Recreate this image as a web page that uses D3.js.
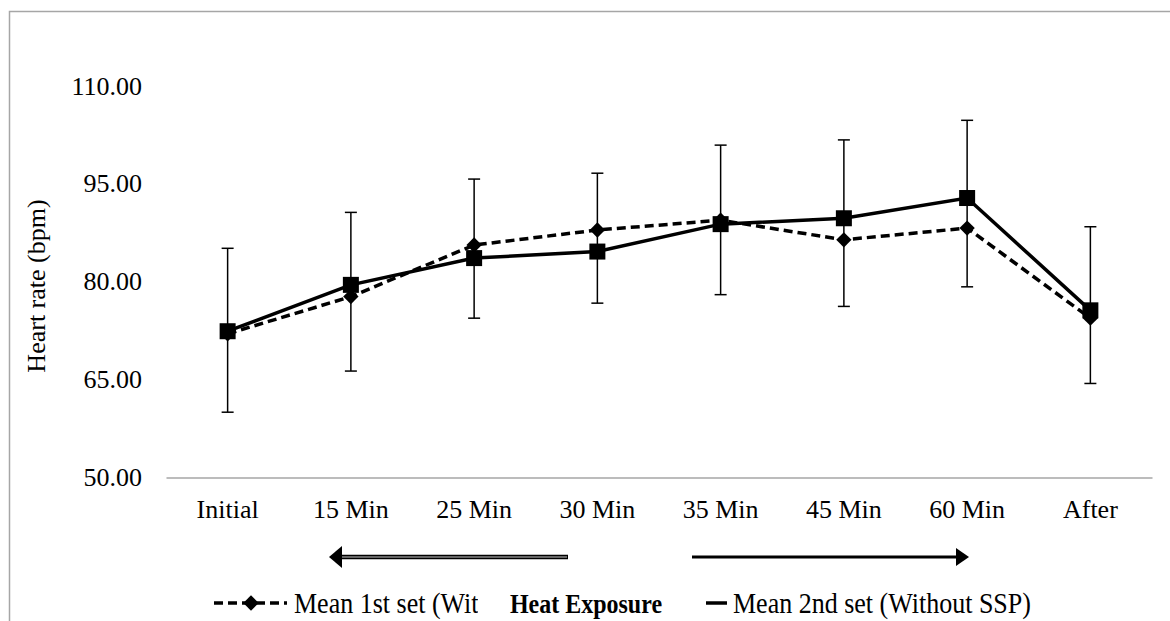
<!DOCTYPE html>
<html>
<head>
<meta charset="utf-8">
<script src="https://cdn.jsdelivr.net/npm/d3@7"></script>
<style>
  body { margin: 0; background: #fff; }
  text { font-family: "Liberation Serif", "Times New Roman", serif; fill: #000; }
</style>
</head>
<body>
<div id="container"></div>
<script>
/* DATA */
const categories = ["Initial", "15 Min", "25 Min", "30 Min", "35 Min", "45 Min", "60 Min", "After"];
const mean1st = [72.0, 77.7, 85.6, 87.9, 89.4, 86.4, 88.2, 74.4];   // dashed, diamonds
const mean2nd = [72.4, 79.5, 83.6, 84.6, 88.8, 89.7, 92.8, 75.6];   // solid, squares
const errTop = [85.1, 90.6, 95.7, 96.6, 100.9, 101.7, 104.7, 88.4];
const errBottom = [60.0, 66.3, 74.4, 76.7, 78.0, 76.2, 79.2, 64.4];
const yTicks = [50, 65, 80, 95, 110];
// first name is cut by the "Heat Exposure" box in the original
const seriesNames = ["Mean 1st set (Wit", "Mean 2nd set (Without SSP)"];

/* CONSTANTS */
const W = 1170, H = 621;
const plot = {left: 166, right: 1152, top: 85.7, bottom: 477.5};

const svg = d3.select("#container").append("svg")
    .attr("width", W)
    .attr("height", H);

// outer chart border (only top and left visible)
svg.append("rect")
    .attr("x", 9.5).attr("y", 11.5)
    .attr("width", 1300).attr("height", 800)
    .attr("fill", "none")
    .attr("stroke", "#a6a6a6")
    .attr("stroke-width", 1.5);

const x = d3.scaleBand()
    .domain(categories)
    .range([plot.left, plot.right]);

const y = d3.scaleLinear()
    .domain([50, 110])
    .range([plot.bottom, plot.top]);

const cx = d => x(d) + x.bandwidth() / 2;

// y axis (labels only)
svg.append("g")
    .attr("transform", "translate(" + plot.left + ",0)")
    .call(d3.axisLeft(y).tickValues(yTicks).tickFormat(d3.format(".2f")).tickSize(0).tickPadding(24))
    .call(g => g.select(".domain").remove())
    .selectAll("text")
      .style("font-size", "26px")
      .style("font-family", "'Liberation Serif', serif")
      .attr("fill", "#000");

// x axis
svg.append("g")
    .attr("transform", "translate(0," + plot.bottom + ")")
    .call(d3.axisBottom(x).tickSize(0).tickPadding(22))
    .call(g => g.select(".domain").attr("stroke", "#a6a6a6").attr("stroke-width", 1.5))
    .selectAll("text")
      .style("font-size", "26px")
      .style("font-family", "'Liberation Serif', serif")
      .attr("fill", "#000");

svg.append("text")
    .attr("transform", "translate(45,286)rotate(-90)")
    .attr("text-anchor", "middle")
    .style("font-size", "26px")
    .text("Heart rate (bpm)");

// error bars
const eb = svg.append("g").attr("stroke", "#000").attr("stroke-width", 1.5);
categories.forEach(function(c, i) {
  eb.append("line")
    .attr("x1", cx(c)).attr("x2", cx(c))
    .attr("y1", y(errTop[i])).attr("y2", y(errBottom[i]));
  [errTop[i], errBottom[i]].forEach(function(v) {
    eb.append("line")
      .attr("x1", cx(c) - 6).attr("x2", cx(c) + 6)
      .attr("y1", y(v)).attr("y2", y(v));
  });
});

const line = d3.line()
    .x((d, i) => cx(categories[i]))
    .y(d => y(d));

// series 1: dashed with diamonds
svg.append("path")
    .datum(mean1st)
    .attr("d", line)
    .attr("fill", "none")
    .attr("stroke", "#000")
    .attr("stroke-width", 3.5)
    .attr("stroke-dasharray", "9,5");

svg.selectAll("path.diamond")
    .data(mean1st)
    .join("path")
    .attr("class", "diamond")
    .attr("d", d3.symbol(d3.symbolDiamond2, 150))
    .attr("transform", (d, i) => "translate(" + cx(categories[i]) + "," + y(d) + ")")
    .attr("fill", "#000");

// series 2: solid with squares
svg.append("path")
    .datum(mean2nd)
    .attr("d", line)
    .attr("fill", "none")
    .attr("stroke", "#000")
    .attr("stroke-width", 3.5);

svg.selectAll("rect.square")
    .data(mean2nd)
    .join("rect")
    .attr("class", "square")
    .attr("x", (d, i) => cx(categories[i]) - 8)
    .attr("y", d => y(d) - 8)
    .attr("width", 16)
    .attr("height", 16)
    .attr("fill", "#000");

/* LEGEND */
const legY = 603;
const leg = svg.append("g");

// entry 1
leg.append("line")
    .attr("x1", 214).attr("x2", 287).attr("y1", legY).attr("y2", legY)
    .attr("stroke", "#000").attr("stroke-width", 3.5).attr("stroke-dasharray", "9,5");
leg.append("path")
    .attr("d", d3.symbol(d3.symbolDiamond2, 150))
    .attr("transform", "translate(251," + legY + ")");
leg.append("text")
    .attr("transform", "translate(294," + (legY + 10) + ")scale(1,1.1)")
    .style("font-size", "26px")
    .text(seriesNames[0]);

// entry 2
leg.append("line")
    .attr("x1", 654).attr("x2", 727).attr("y1", legY).attr("y2", legY)
    .attr("stroke", "#000").attr("stroke-width", 3.5);
leg.append("rect")
    .attr("x", 682).attr("y", legY - 8).attr("width", 16).attr("height", 16);
leg.append("text")
    .attr("transform", "translate(733," + (legY + 10) + ")scale(1,1.1)")
    .style("font-size", "26px")
    .text(seriesNames[1]);

/* HEAT EXPOSURE ANNOTATION */
svg.append("rect")
    .attr("x", 478).attr("y", 580)
    .attr("width", 228).attr("height", 41)
    .attr("fill", "#fff");

svg.append("text")
    .attr("transform", "translate(586," + (legY + 10) + ")scale(1,1.1)")
    .attr("text-anchor", "middle")
    .style("font-size", "24px")
    .style("font-weight", "bold")
    .text("Heat Exposure");

const arrY = 557;
// left arrow
svg.append("line")
    .attr("x1", 338).attr("x2", 568).attr("y1", arrY).attr("y2", arrY)
    .attr("stroke", "#000").attr("stroke-width", 4.5);
svg.append("line")
    .attr("x1", 338).attr("x2", 567).attr("y1", arrY).attr("y2", arrY)
    .attr("stroke", "#888").attr("stroke-width", 1.5);
svg.append("path")
    .attr("d", "M329," + arrY + "L342," + (arrY - 11) + "L342," + (arrY + 11) + "Z")
    .attr("fill", "#000");

// right arrow
svg.append("line")
    .attr("x1", 692).attr("x2", 958).attr("y1", arrY).attr("y2", arrY)
    .attr("stroke", "#000").attr("stroke-width", 3);
svg.append("path")
    .attr("d", "M969," + arrY + "L956," + (arrY - 9) + "L956," + (arrY + 9) + "Z")
    .attr("fill", "#000");
</script>
</body>
</html>
